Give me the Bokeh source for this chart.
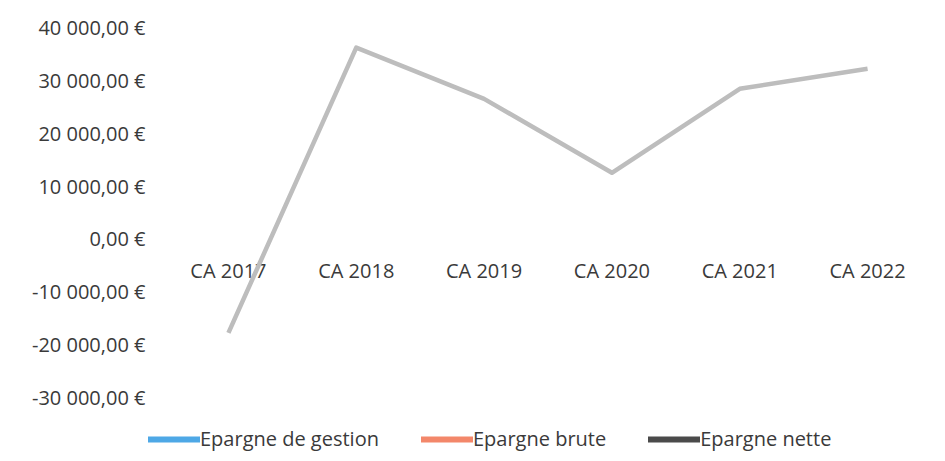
from bokeh.plotting import figure
from bokeh.models import Range1d, FixedTicker, Legend, LegendItem, ColumnDataSource
from bokeh.core.properties import value
from bokeh.embed import file_html
from bokeh.resources import INLINE

categories = ["CA 2017", "CA 2018", "CA 2019", "CA 2020", "CA 2021", "CA 2022"]
epargne_nette = [-17800, 36200, 26500, 12500, 28400, 32200]
y_ticks = [-30000, -20000, -10000, 0, 10000, 20000, 30000, 40000]
series_names = ["Epargne de gestion", "Epargne brute", "Epargne nette"]
series_colors = ["#4EA8E6", "#F3876A", "#4A4A4A"]

FONT = "Open Sans"
TXT = "#3a3a3a"

def fr_euro(v):
    s = f"{abs(v):,.2f}".replace(",", " ").replace(".", ",")
    return ("-" if v < 0 else "") + s + " €"

# frame spans 147..931 px horizontally, 27..455 px vertically
p = figure(width=945, height=458, output_backend="svg", toolbar_location=None,
           x_range=Range1d(-0.133, len(categories)), y_range=Range1d(-41000, 40000),
           x_axis_location=None,
           min_border_left=147, min_border_right=14, min_border_top=27, min_border_bottom=3)
p.outline_line_color = None
p.xgrid.visible = False
p.ygrid.visible = False
p.background_fill_color = "white"
p.border_fill_color = "white"

ya = p.yaxis[0]
ya.ticker = FixedTicker(ticks=y_ticks)
ya.major_label_overrides = {v: fr_euro(v) for v in y_ticks}
ya.axis_line_color = None
ya.major_tick_line_color = None
ya.minor_tick_line_color = None
ya.major_tick_out = 0
ya.major_label_text_font = FONT
ya.major_label_text_font_size = "20px"
ya.major_label_text_color = TXT
ya.major_label_standoff = 2

xs = [i + 0.5 for i in range(len(categories))]

# category labels along the zero line
src_lab = ColumnDataSource(dict(x=xs, y=[0] * len(categories), t=categories))
p.text(x="x", y="y", text="t", source=src_lab, text_font=value(FONT),
       text_font_size="20px", text_color=TXT, text_align="center",
       text_baseline="middle", y_offset=32)

# visible series
p.line(xs, epargne_nette, line_color="#BDBDBD", line_width=4.5, line_join="round")

# legend entries (series not visible in the plot: no plotted values)
nan = float("nan")
items = []
for name, col in zip(series_names, series_colors):
    r = p.line([nan], [nan], line_color=col, line_width=6, line_cap="round")
    items.append(LegendItem(label=name, renderers=[r]))

legend = Legend(items=items, orientation="horizontal", location=(1, 3),
                padding=0, margin=0, spacing=42, label_standoff=0,
                glyph_width=52, glyph_height=16, label_height=16,
                border_line_color=None, background_fill_alpha=0,
                label_text_font=FONT, label_text_font_size="20px",
                label_text_color=TXT)
p.add_layout(legend, "center")

open("out.html", "w").write(file_html(p, INLINE))
